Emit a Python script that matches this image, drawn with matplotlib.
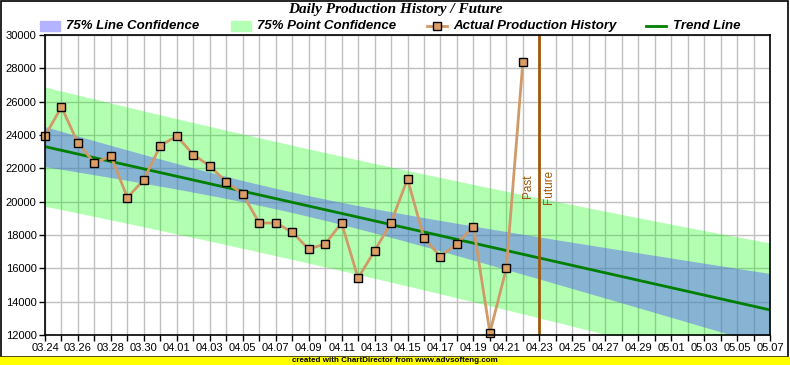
import numpy as np
import matplotlib
matplotlib.use("Agg")
import matplotlib.pyplot as plt
from matplotlib.patches import Rectangle
from matplotlib.lines import Line2D
import datetime as dt

# data
start = dt.date(2024, 3, 24)
n_days = 44          # axis runs 03.24 .. 05.07
split_day = 30       # 04.23 past / future
production = [23940, 25680, 23520, 22320, 22740, 20240, 21320, 23360, 23940, 22820,
              22140, 21180, 20460, 18720, 18720, 18180, 17160, 17460, 18720, 15420,
              17040, 18740, 21360, 17840, 16700, 17480, 18500, 12140, 16000, 28380]
t_75 = 1.17          # t value, 75% two sided, 28 dof

W, H = 790, 365
fig = plt.figure(figsize=(W / 100, H / 100), dpi=100)

def fx(px):
    return px / W

def fy(py):
    return 1 - py / H

ax = fig.add_axes([fx(45), fy(335), fx(725), (335 - 35) / H])

# trend + confidence bands
x = np.arange(len(production))
y = np.array(production, dtype=float)
slope, icpt = np.polyfit(x, y, 1)
s = np.sqrt(np.sum((y - (slope * x + icpt)) ** 2) / (len(x) - 2))
xm = x.mean()
sxx = np.sum((x - xm) ** 2)
xx = np.linspace(0, n_days, 200)
yy = slope * xx + icpt
lw = t_75 * s * np.sqrt(1 / len(x) + (xx - xm) ** 2 / sxx)
pw = t_75 * s * np.sqrt(1 + 1 / len(x) + (xx - xm) ** 2 / sxx)

green = (0.0, 1.0, 0.0, 0.30)
blue = (0.33, 0.33, 1.0, 0.44)
ax.fill_between(xx, yy - pw, yy + pw, color=green, lw=0, zorder=2)
ax.fill_between(xx, yy - lw, yy + lw, color=blue, lw=0, zorder=3)
ax.plot(xx, yy, color='#008000', lw=2, zorder=4)

ax.plot(x, y, color='#d09a68', lw=2, zorder=5, marker='s', ms=6,
        mfc='#dd9e66', mec='black', mew=1, clip_on=False)

brown = '#a0580a'
ax.axvline(split_day, color=brown, lw=2, zorder=6)
ax.text(split_day - 0.3, 20900, 'Past', rotation=90, color=brown, fontsize=8.5,
        family='Liberation Sans', ha='right', va='center', zorder=7)
ax.text(split_day + 0.25, 20900, 'Future', rotation=90, color=brown, fontsize=8.5,
        family='Liberation Sans', ha='left', va='center', zorder=7)

ax.set_xlim(0, n_days)
ax.set_ylim(12000, 30000)
ax.set_xticks(np.arange(0, n_days + 1, 1))
labels = []
for d in range(n_days + 1):
    day = start + dt.timedelta(days=d)
    labels.append(day.strftime('%m.%d') if d % 2 == 0 else '')
ax.set_xticklabels(labels)
ax.set_yticks(np.arange(12000, 30001, 2000))
ax.tick_params(direction='out', length=4, width=1, labelsize=8, pad=2)
for lab in ax.get_xticklabels() + ax.get_yticklabels():
    lab.set_family('Liberation Sans')
ax.grid(True, color='#c0c0c0', lw=1, zorder=1)
ax.set_axisbelow(True)
for sp in ax.spines.values():
    sp.set_linewidth(1.2)
    sp.set_zorder(8)

# title
fig.text(fx(395), fy(10), 'Daily Production History / Future', ha='center', va='center',
         family='Liberation Serif', fontweight='bold', style='italic', fontsize=11)

# legend
ly = fy(26)
fs = dict(family='Liberation Sans', fontweight='bold', style='italic', fontsize=9.5, va='center')
fig.patches.append(Rectangle((fx(40), fy(31)), fx(20), 10 / H, color=(0.70, 0.70, 1.0),
                             transform=fig.transFigure))
fig.text(fx(66), ly, '75% Line Confidence', **fs)
fig.patches.append(Rectangle((fx(231), fy(31)), fx(20), 10 / H, color=(0.70, 1.0, 0.70),
                             transform=fig.transFigure))
fig.text(fx(257), ly, '75% Point Confidence', **fs)
fig.lines.append(Line2D([fx(427), fx(447)], [ly, ly], color='#d09a68', lw=2,
                        transform=fig.transFigure))
fig.lines.append(Line2D([fx(437)], [ly], marker='s', ms=6, mfc='#dd9e66', mec='black',
                        mew=1, transform=fig.transFigure))
fig.text(fx(453), ly, 'Actual Production History', **fs)
fig.lines.append(Line2D([fx(646), fx(666)], [ly, ly], color='#008000', lw=2,
                        transform=fig.transFigure))
fig.text(fx(673), ly, 'Trend Line', **fs)

# outer border and footer strip
fig.patches.append(Rectangle((fx(0.5), fy(357)), fx(787), 356.5 / H, fill=False,
                             ec='black', lw=1.2, transform=fig.transFigure))
fig.patches.append(Rectangle((0, 0), 1, 8 / H, color='#ffff00', transform=fig.transFigure))
fig.text(fx(395), fy(361), 'created with ChartDirector from www.advsofteng.com', ha='center',
         va='center', fontsize=5.8, fontweight='bold', family='Liberation Sans')

fig.savefig('out.png', dpi=100)
